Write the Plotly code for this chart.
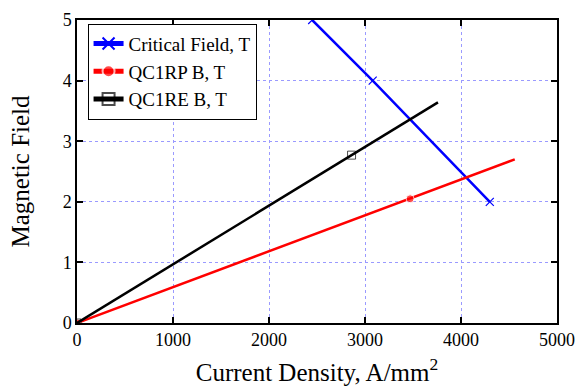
import plotly.graph_objects as go

crit_x = [2450, 3080, 4300]
crit_y = [5, 4, 2]
rp_x = [0, 3470, 4560]
rp_y = [0, 2.05, 2.70]
re_x = [0, 2860, 3760]
re_y = [0, 2.77, 3.64]

x_ticks = [0, 1000, 2000, 3000, 4000, 5000]
y_ticks = [0, 1, 2, 3, 4, 5]

SERIF = "Liberation Serif"

fig = go.Figure()
fig.add_trace(go.Scatter(x=crit_x, y=crit_y, mode="lines+markers", name="Critical Field, T",
                         line=dict(color="#0000ff", width=2.5),
                         marker=dict(symbol="x-thin", size=8, line=dict(color="#0000ff", width=1.2))))
fig.add_trace(go.Scatter(x=rp_x, y=rp_y, mode="lines+markers", name="QC1RP B, T",
                         line=dict(color="#ff0000", width=2.5),
                         marker=dict(symbol="circle", size=[8, 8, 0], color="#ff0000")))
fig.add_trace(go.Scatter(x=re_x, y=re_y, mode="lines+markers", name="QC1RE B, T",
                         line=dict(color="#000000", width=2.5),
                         marker=dict(symbol="square-open", size=[8, 8, 0], color="#000000",
                                     line=dict(width=1))))

axis_common = dict(
    showline=True, linecolor="black", linewidth=1.5, mirror="ticks",
    ticks="inside", ticklen=6, tickwidth=1.5, tickcolor="black",
    showgrid=True, gridcolor="#9a9aff", griddash="dot", gridwidth=1,
    zeroline=False, automargin=False,
    tickfont=dict(family=SERIF, size=18, color="black"),
)
fig.update_xaxes(range=[0, 5000], tickvals=x_ticks, ticktext=[str(v) for v in x_ticks],
                 title=dict(text="Current Density, A/mm<sup>2</sup>",
                            font=dict(family=SERIF, size=25, color="black"), standoff=14),
                 **axis_common)
fig.update_yaxes(range=[0, 5], tickvals=y_ticks, ticktext=[str(v) for v in y_ticks],
                 title=dict(text="Magnetic Field",
                            font=dict(family=SERIF, size=25, color="black"), standoff=26),
                 **axis_common)
fig.update_layout(
    width=576, height=391,
    margin=dict(l=77, r=19, t=20, b=68),
    plot_bgcolor="white", paper_bgcolor="white",
    legend=dict(x=0.022, y=0.988, xanchor="left", yanchor="top",
                bgcolor="white", bordercolor="black", borderwidth=1,
                font=dict(family=SERIF, size=19, color="black"),
                tracegroupgap=0, itemwidth=30, itemsizing="constant"),
    font=dict(family=SERIF),
)
fig.write_html("out.html", post_script="document.body.style.margin='0';",
               config={"displayModeBar": False})
